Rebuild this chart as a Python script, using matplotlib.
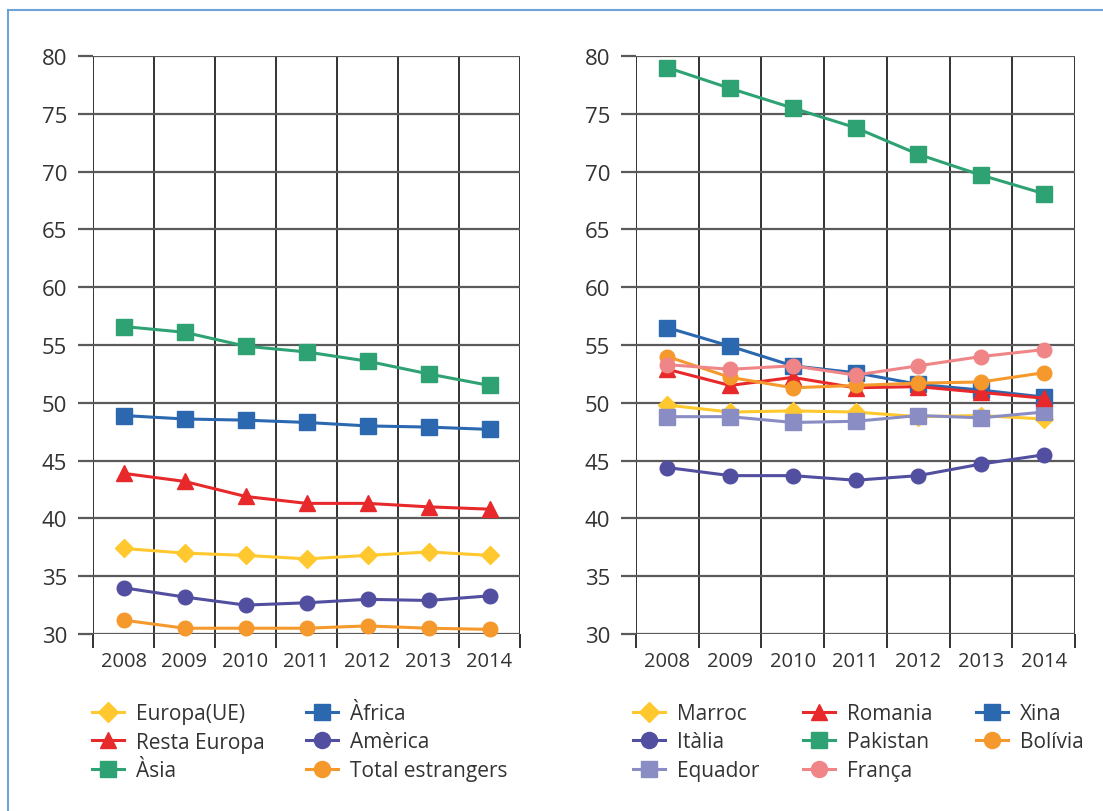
import matplotlib.pyplot as plt
from matplotlib.lines import Line2D

plt.rcParams['font.family'] = ['Open Sans', 'DejaVu Sans']

years = ['2008', '2009', '2010', '2011', '2012', '2013', '2014']

# left panel: regions
europa_ue = [37.4, 37.0, 36.8, 36.5, 36.8, 37.1, 36.8]
resta_europa = [43.9, 43.2, 41.9, 41.3, 41.3, 41.0, 40.8]
asia = [56.6, 56.1, 54.9, 54.4, 53.6, 52.5, 51.5]
africa = [48.9, 48.6, 48.5, 48.3, 48.0, 47.9, 47.7]
america = [34.0, 33.2, 32.5, 32.7, 33.0, 32.9, 33.3]
total = [31.2, 30.5, 30.5, 30.5, 30.7, 30.5, 30.4]

# right panel: countries
marroc = [49.8, 49.2, 49.3, 49.2, 48.8, 48.9, 48.6]
italia = [44.4, 43.7, 43.7, 43.3, 43.7, 44.7, 45.5]
equador = [48.8, 48.8, 48.3, 48.4, 48.9, 48.7, 49.2]
romania = [52.9, 51.5, 52.2, 51.3, 51.4, 50.9, 50.4]
pakistan = [79.0, 77.2, 75.5, 73.8, 71.5, 69.7, 68.1]
franca = [53.3, 52.9, 53.2, 52.4, 53.2, 54.0, 54.6]
xina = [56.5, 54.9, 53.2, 52.6, 51.6, 51.1, 50.5]
bolivia = [54.0, 52.2, 51.3, 51.5, 51.7, 51.8, 52.6]

yellow = '#FFC82E'
red = '#E8292B'
green = '#2FA274'
blue = '#2B68B0'
purple = '#524EA0'
orange = '#F5992D'
pink = '#F08587'
lilac = '#8A8DC4'

fig = plt.figure(figsize=(11.03, 8.12), dpi=100)

# light blue frame (top and left only)
fig.add_artist(Line2D([8/1103, 8/1103], [0, 1 - 11/812], color='#6FA3D6', lw=1.5))
fig.add_artist(Line2D([8/1103, 1], [1 - 11/812, 1 - 11/812], color='#6FA3D6', lw=1.5))


def setup(ax):
    ax.set_xlim(-0.5, 6.5)
    ax.set_ylim(30, 80)
    ax.set_yticks(range(30, 81, 5))
    ax.set_xticks(range(7))
    ax.set_xticklabels(years)
    ax.set_xticks([i - 0.5 for i in range(8)], minor=True)
    ax.grid(axis='y', color='#5a5a5a', lw=1.6)
    ax.grid(axis='x', which='minor', color='#222222', lw=1.3)
    for s in ax.spines.values():
        s.set_visible(False)
    ax.tick_params(axis='y', length=11, width=1.6, color='#5a5a5a', labelsize=16,
                   pad=7.5, labelcolor='#333333')
    ax.tick_params(axis='x', which='major', length=0, labelsize=14.5, pad=12,
                   labelcolor='#333333')
    ax.tick_params(axis='x', which='minor', length=10, width=1.3, color='#222222')
    ax.set_axisbelow(True)


kw = dict(lw=2.2, clip_on=False)

ax1 = fig.add_axes([93/1103, 177/812, 427/1103, 578/812])
setup(ax1)
x = range(len(years))
ax1.plot(x, europa_ue, color=yellow, marker='D', ms=9, label='Europa(UE)', **kw)
ax1.plot(x, resta_europa, color=red, marker='^', ms=11, label='Resta Europa', **kw)
ax1.plot(x, asia, color=green, marker='s', ms=11, label='Àsia', **kw)
ax1.plot(x, africa, color=blue, marker='s', ms=11, label='Àfrica', **kw)
ax1.plot(x, america, color=purple, marker='o', ms=10.5, label='Amèrica', **kw)
ax1.plot(x, total, color=orange, marker='o', ms=10.5, label='Total estrangers', **kw)

ax2 = fig.add_axes([636/1103, 177/812, 439/1103, 578/812])
setup(ax2)
ax2.plot(x, pakistan, color=green, marker='s', ms=11, label='Pakistan', **kw)
ax2.plot(x, italia, color=purple, marker='o', ms=10.5, label='Itàlia', **kw)
ax2.plot(x, marroc, color=yellow, marker='D', ms=9, label='Marroc', **kw)
ax2.plot(x, equador, color=lilac, marker='s', ms=11, label='Equador', **kw)
ax2.plot(x, xina, color=blue, marker='s', ms=11, label='Xina', **kw)
ax2.plot(x, romania, color=red, marker='^', ms=11, label='Romania', **kw)
ax2.plot(x, bolivia, color=orange, marker='o', ms=10.5, label='Bolívia', **kw)
ax2.plot(x, franca, color=pink, marker='o', ms=10.5, label='França', **kw)

leg_kw = dict(loc='upper left', frameon=False, borderpad=0, borderaxespad=0,
              handlelength=1.55, handletextpad=0.55, labelspacing=0.36,
              markerscale=1.1, prop={'size': 15}, labelcolor='#333333')

h1, l1 = ax1.get_legend_handles_labels()
fig.legend(h1, l1, ncol=2, columnspacing=2.0,
           bbox_to_anchor=(92/1103, 1 - 704/812), **leg_kw)

h2, l2 = ax2.get_legend_handles_labels()
d2 = dict(zip(l2, h2))
order2 = ['Marroc', 'Itàlia', 'Equador', 'Romania', 'Pakistan', 'França', 'Xina', 'Bolívia']
fig.legend([d2[k] for k in order2], order2, ncol=3, columnspacing=2.1,
           bbox_to_anchor=(633/1103, 1 - 704/812), **leg_kw)

fig.savefig('out.png', dpi=100)
